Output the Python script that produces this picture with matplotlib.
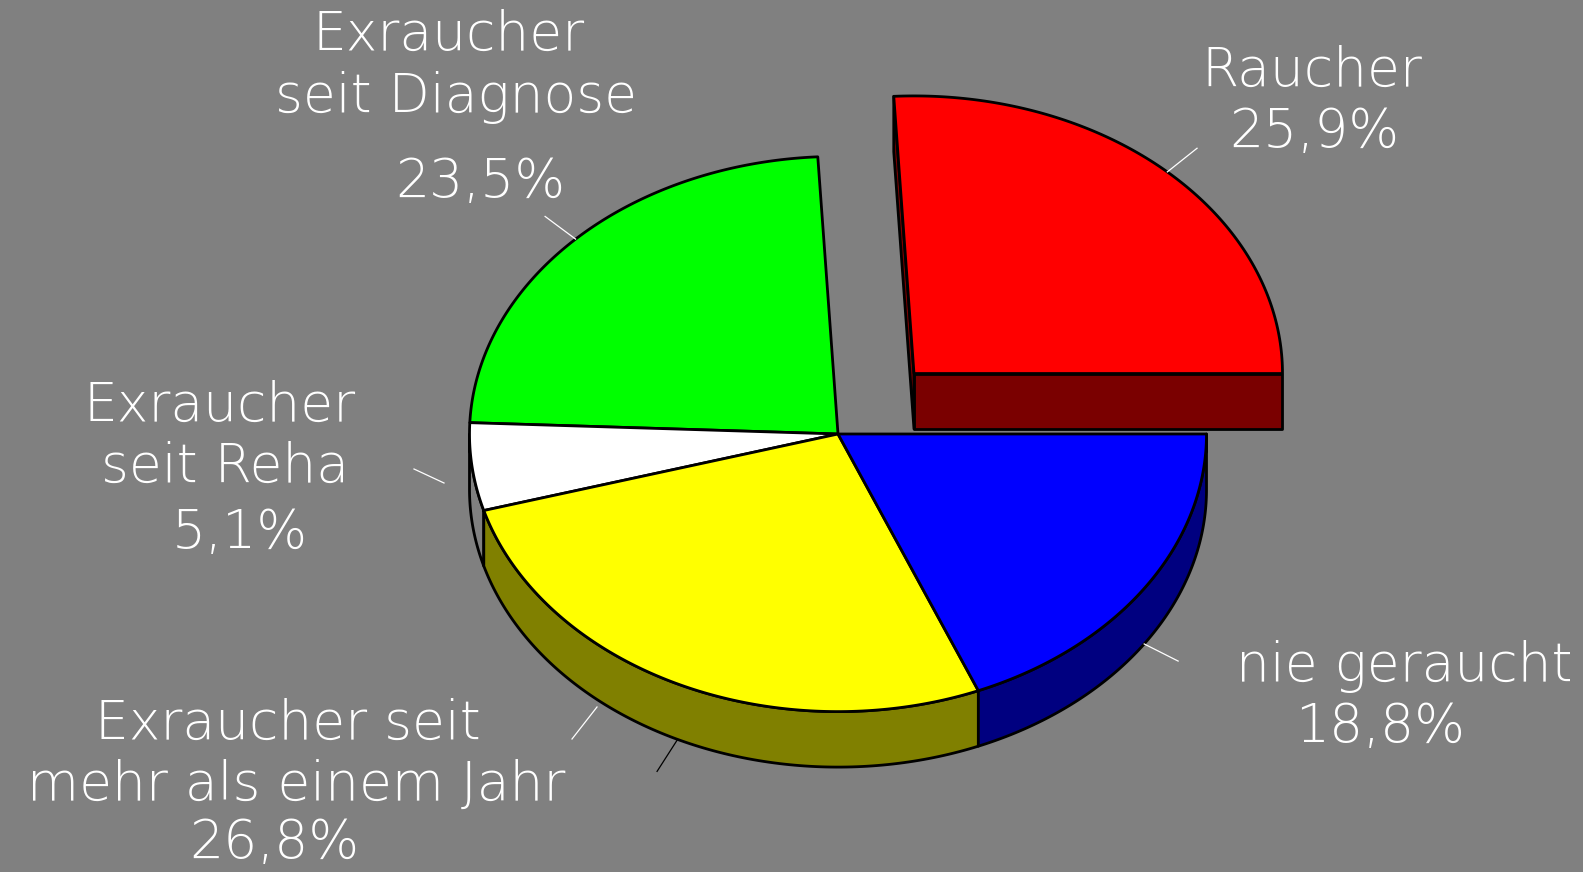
import numpy as np
import matplotlib
matplotlib.use('Agg')
import matplotlib.pyplot as plt
from matplotlib.patches import Polygon

# --- Data (counter-clockwise from 3 o'clock) ---
categories = ['Raucher', 'Exraucher\nseit Diagnose', 'Exraucher\nseit Reha',
              'Exraucher seit\nmehr als einem Jahr', 'nie geraucht']
values = [25.9, 23.5, 5.1, 26.8, 18.8]
explode = [0.3, 0, 0, 0, 0]
top_colors = ['#ff0000', '#00ff00', '#ffffff', '#ffff00', '#0000ff']
side_colors = ['#7a0000', '#008000', '#808080', '#808000', '#000080']

# --- Geometry of the tilted pie (pixels) ---
W, H = 1583, 872
cx, cy = 838, 434
rx, ry = 368.5, 277.6
depth = 55.5
bg = '#808080'

fig = plt.figure(figsize=(W / 100, H / 100), dpi=100, facecolor=bg)
ax = fig.add_axes([0, 0, 1, 1])
ax.set_xlim(0, W)
ax.set_ylim(H, 0)
ax.axis('off')
ax.set_facecolor(bg)

fr = np.array(values) / sum(values)
bounds = np.concatenate([[0], np.cumsum(fr) * 360])


def pt(t, ox, oy, dz=0.0):
    r = np.radians(t)
    return ox + rx * np.cos(r), oy - ry * np.sin(r) + dz


def arc(t1, t2, ox, oy, dz=0.0, n=120):
    ts = np.linspace(t1, t2, n)
    return [pt(t, ox, oy, dz) for t in ts]


ekw = dict(edgecolor='black', linewidth=2.0, joinstyle='round')
origins = []
for i in range(len(values)):
    t1, t2 = bounds[i], bounds[i + 1]
    mid = np.radians((t1 + t2) / 2)
    ox = cx + explode[i] * rx * np.cos(mid)
    oy = cy - explode[i] * ry * np.sin(mid)
    origins.append((ox, oy))

# sides first
for i in range(len(values)):
    t1, t2 = bounds[i], bounds[i + 1]
    ox, oy = origins[i]
    if explode[i] > 0:
        for t, nrm in ((t1, t1 - 90), (t2, t2 + 90)):
            if np.sin(np.radians(nrm)) < 0:
                ex, ey = pt(t, ox, oy)
                face = [(ox, oy), (ex, ey), (ex, ey + depth), (ox, oy + depth)]
                ax.add_patch(Polygon(face, closed=True, facecolor=side_colors[i], **ekw))
    a, b = max(t1, 180), min(t2, 360)
    if b > a:
        wall = arc(a, b, ox, oy) + arc(b, a, ox, oy, depth)
        ax.add_patch(Polygon(wall, closed=True, facecolor=side_colors[i], **ekw))

# tops
for i in range(len(values)):
    t1, t2 = bounds[i], bounds[i + 1]
    ox, oy = origins[i]
    top = [(ox, oy)] + arc(t1, t2, ox, oy)
    ax.add_patch(Polygon(top, closed=True, facecolor=top_colors[i], **ekw))

# leader lines
lead_len = 38
for i in range(len(values)):
    t1, t2 = bounds[i], bounds[i + 1]
    tm = (t1 + t2) / 2
    if i == 2:
        continue
    ox, oy = origins[i]
    front = np.sin(np.radians(tm)) < 0
    x0, y0 = pt(tm, ox, oy, depth if front else 0)
    d = np.array([rx * np.cos(np.radians(tm)), -ry * np.sin(np.radians(tm))])
    d = d / np.hypot(*d)
    col = 'black' if i == 3 else 'white'
    ax.plot([x0, x0 + d[0] * lead_len], [y0, y0 + d[1] * lead_len], color=col, lw=0.9)
# extra leader lines near the small labels
ax.plot([444, 414], [483, 469], color='white', lw=0.9)
ax.plot([597, 572], [707, 739], color='white', lw=0.9)

# --- Labels ---
pct = [f'{v:.1f}'.replace('.', ',') + '%' for v in values]
fs = 38.5
tkw = dict(color='white', fontsize=fs, ha='center', va='baseline',
           family='DejaVu Sans', fontweight='light')
label_lines = [
    [(categories[0], 1312, 86), (pct[0], 1314, 147)],
    [('Exraucher', 449, 50), ('seit Diagnose', 456, 112), (pct[1], 480, 197)],
    [('Exraucher', 220, 421), ('seit Reha', 225, 482), (pct[2], 240, 548)],
    [('Exraucher seit', 288, 739), ('mehr als einem Jahr', 296, 800), (pct[3], 274, 858)],
    [(categories[4], 1404, 681), (pct[4], 1380, 742)],
]
for block in label_lines:
    for s, x, y in block:
        ax.text(x, y, s, **tkw)

fig.savefig('out.png', dpi=100, facecolor=bg)
